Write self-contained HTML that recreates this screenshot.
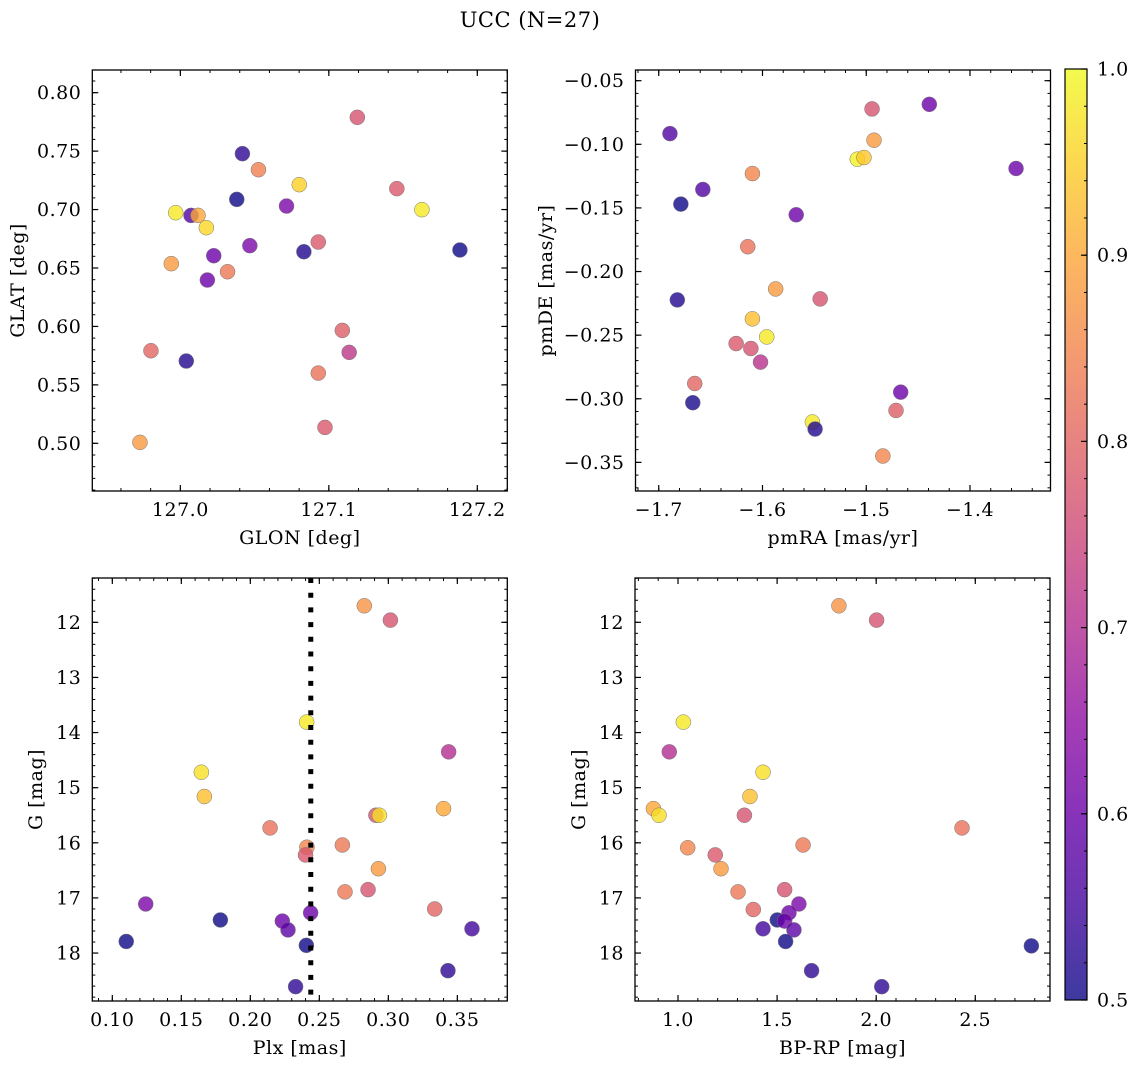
<!DOCTYPE html>
<html><head><meta charset="utf-8"><style>
html,body{margin:0;padding:0;background:#fff;}
svg{display:block;font-family:"DejaVu Serif","Liberation Serif",serif;}
text{letter-spacing:0.5px;}
</style></head><body>
<svg id="fig" width="1136" height="1068" viewBox="0 0 1136 1068">
<text x="530" y="27" text-anchor="middle" font-size="21">UCC (N=27)</text>
</svg>
<script>
// ---- data ----
const glon = [127.1192,127.0418,127.0526,127.0801,127.0380,127.1458,127.1627,126.9969,127.0072,127.0119,127.0715,127.0175,127.0468,127.0929,127.0225,127.0832,127.1883,126.9939,127.0318,127.0182,127.1091,126.9802,127.1137,127.0040,127.0929,127.0974,126.9728];
const glat = [0.7789,0.7478,0.7341,0.7213,0.7087,0.7179,0.6999,0.6973,0.6950,0.6950,0.7030,0.6845,0.6691,0.6722,0.6605,0.6639,0.6654,0.6537,0.6468,0.6397,0.5966,0.5792,0.5778,0.5704,0.5601,0.5136,0.5008];
const prob1 = [0.77,0.53,0.84,0.95,0.5,0.78,0.98,0.98,0.57,0.9,0.62,0.96,0.62,0.78,0.6,0.52,0.5,0.88,0.83,0.6,0.79,0.8,0.72,0.52,0.82,0.78,0.88];
const pmra = [-1.4944,-1.4392,-1.6892,-1.4925,-1.5086,-1.5022,-1.3556,-1.6097,-1.6575,-1.6787,-1.5675,-1.6142,-1.5873,-1.5444,-1.6821,-1.6097,-1.5959,-1.6254,-1.6112,-1.6019,-1.6653,-1.4668,-1.6672,-1.4713,-1.5519,-1.5493,-1.4840];
const pmde = [-0.0722,-0.0686,-0.0916,-0.0968,-0.1117,-0.1104,-0.1190,-0.1230,-0.1355,-0.1470,-0.1554,-0.1805,-0.2137,-0.2215,-0.2223,-0.2372,-0.2514,-0.2566,-0.2605,-0.2712,-0.2880,-0.2948,-0.3031,-0.3092,-0.3183,-0.3238,-0.3450];
const prob2 = [0.77,0.6,0.57,0.88,0.99,0.94,0.6,0.85,0.57,0.5,0.6,0.82,0.88,0.77,0.52,0.93,0.98,0.78,0.77,0.71,0.8,0.6,0.51,0.79,0.98,0.52,0.85];
const plx = [0.2826,0.3015,0.2408,0.3437,0.1645,0.1667,0.2910,0.2935,0.3400,0.2143,0.2410,0.2400,0.2667,0.2928,0.2686,0.2853,0.3336,0.1242,0.2437,0.1783,0.2232,0.2273,0.3606,0.1101,0.2406,0.3432,0.2328];
const gmag3 = [11.70,11.96,13.81,14.35,14.72,15.16,15.50,15.50,15.38,15.73,16.08,16.22,16.04,16.47,16.89,16.85,17.20,17.11,17.27,17.40,17.42,17.58,17.56,17.79,17.86,18.32,18.61];
const prob3 = [0.87,0.77,0.98,0.7,0.97,0.93,0.77,0.97,0.9,0.82,0.85,0.78,0.83,0.88,0.83,0.77,0.8,0.62,0.6,0.5,0.6,0.58,0.55,0.5,0.5,0.53,0.53];
const bprp = [1.812,2.002,1.027,0.956,1.429,1.363,0.876,0.904,1.335,2.433,1.631,1.049,1.188,1.217,1.303,1.538,1.380,1.610,1.560,1.501,1.538,1.585,1.429,1.543,2.783,1.674,2.028];
const gmag4 = [11.70,11.96,13.81,14.35,14.72,15.16,15.38,15.50,15.50,15.73,16.04,16.09,16.22,16.47,16.89,16.85,17.21,17.11,17.27,17.40,17.42,17.58,17.56,17.79,17.87,18.32,18.61];
const prob4 = [0.87,0.77,0.98,0.7,0.97,0.93,0.9,0.97,0.77,0.82,0.83,0.85,0.78,0.88,0.83,0.77,0.8,0.62,0.6,0.5,0.6,0.58,0.55,0.5,0.5,0.53,0.53];
const plxLine = [0.2438];
const xticks1 = ["127.0","127.1","127.2"], yticks1 = ["0.50","0.55","0.60","0.65","0.70","0.75","0.80"];
const xticks2 = ["-1.7","-1.6","-1.5","-1.4"], yticks2 = ["-0.35","-0.30","-0.25","-0.20","-0.15","-0.10","-0.05"];
const xticks3 = ["0.10","0.15","0.20","0.25","0.30","0.35"], yticks34 = ["12","13","14","15","16","17","18"];
const xticks4 = ["1.0","1.5","2.0","2.5"];
const cbTicks = ["0.5","0.6","0.7","0.8","0.9","1.0"];

const NS="http://www.w3.org/2000/svg";
const svg=document.getElementById('fig');
const FS=19;
function mk(tag,attrs,parent){const e=document.createElementNS(NS,tag);for(const k in attrs)e.setAttribute(k,attrs[k]);(parent||svg).appendChild(e);return e;}
const stops=["#0d0887","#41049d","#6a00a8","#8f0da4","#b12a90","#cc4778","#e16462","#f2844b","#fca636","#fcce25","#f0f921"];
function hex(h){return [1,3,5].map(i=>parseInt(h.substr(i,2),16));}
function plasma(t){t=Math.max(0,Math.min(1,t));const f=t*10,i=Math.min(9,Math.floor(f)),u=f-i;const a=hex(stops[i]),b=hex(stops[i+1]);return "rgb("+a.map((v,k)=>Math.round(v+(b[k]-v)*u)).join(",")+")";}
function cmap(v){return plasma((v-0.5)/0.5);}
function fmt(s){return s.replace("-","\u2212");}

function panel(o){
  const g=mk('g',{});
  
  
  const sx=v=>o.L+(v-o.x0)/(o.x1-o.x0)*o.W;
  const sy=v=>o.T+o.H-(v-o.y0)/(o.y1-o.y0)*o.H;
  for(let i=0;i<o.xs.length;i++){
    const c=mk('circle',{cx:sx(o.xs[i]),cy:sy(o.ys[i]),r:7.5,fill:cmap(o.cs[i]),'fill-opacity':0.8,stroke:'#777','stroke-width':0.5},g);
    
    
  }
  if(o.vline){for(const v of o.vline){const l=mk('line',{x1:sx(v),x2:sx(v),y1:o.T,y2:o.T+o.H,stroke:'#000','stroke-width':5,'stroke-dasharray':'5 9.7'},g);
    
    }}
  const fr=mk('rect',{x:o.L,y:o.T,width:o.W,height:o.H,fill:'none',stroke:'#000','stroke-width':1.3},g);
  
  
  const lo=Math.min(o.y0,o.y1),hi=Math.max(o.y0,o.y1);
  for(let k=Math.ceil(o.x0/o.xm-1e-6);k*o.xm<=o.x1+1e-9;k++){const x=sx(k*o.xm);
    mk('line',{x1:x,x2:x,y1:o.T+o.H,y2:o.T+o.H-3,stroke:'#000','stroke-width':1},g);
    mk('line',{x1:x,x2:x,y1:o.T,y2:o.T+3,stroke:'#000','stroke-width':1},g);}
  for(let k=Math.ceil(lo/o.ym-1e-6);k*o.ym<=hi+1e-9;k++){const y=sy(k*o.ym);
    mk('line',{x1:o.L,x2:o.L+3,y1:y,y2:y,stroke:'#000','stroke-width':1},g);
    mk('line',{x1:o.L+o.W,x2:o.L+o.W-3,y1:y,y2:y,stroke:'#000','stroke-width':1},g);}
  for(const s of o.xt){const x=sx(parseFloat(s));
    mk('line',{x1:x,x2:x,y1:o.T+o.H,y2:o.T+o.H-6,stroke:'#000','stroke-width':1.2},g);
    mk('line',{x1:x,x2:x,y1:o.T,y2:o.T+6,stroke:'#000','stroke-width':1.2},g);
    const t=mk('text',{x:x,y:o.T+o.H+25,'text-anchor':'middle','font-size':FS},g);t.textContent=fmt(s);
    
    }
  for(const s of o.yt){const y=sy(parseFloat(s));
    mk('line',{x1:o.L,x2:o.L+6,y1:y,y2:y,stroke:'#000','stroke-width':1.2},g);
    mk('line',{x1:o.L+o.W,x2:o.L+o.W-6,y1:y,y2:y,stroke:'#000','stroke-width':1.2},g);
    const t=mk('text',{x:o.L-11,y:y+6.5,'text-anchor':'end','font-size':FS},g);t.textContent=fmt(s);
    
    }
  const xl=mk('text',{x:o.L+o.W/2,y:o.T+o.H+53,'text-anchor':'middle','font-size':FS},g);xl.textContent=o.xlab;
  
  
  const yl=mk('text',{x:0,y:0,'text-anchor':'middle','font-size':FS,transform:'translate('+o.ylx+','+(o.T+o.H/2)+') rotate(-90)'},g);yl.textContent=o.ylab;
  
  
}
panel({name:'glon-glat-panel',L:92.3,T:70,W:415,H:421,x0:126.9407,x1:127.2202,y0:0.4592,y1:0.8194,xm:0.02,ym:0.01,xs:glon,ys:glat,cs:prob1,xt:xticks1,yt:yticks1,xlab:'GLON [deg]',ylab:'GLAT [deg]',ylx:24});
panel({name:'pm-panel',L:635.5,T:70,W:415,H:421,x0:-1.7224,x1:-1.3224,y0:-0.3725,y1:-0.0416,xm:0.02,ym:0.01,xs:pmra,ys:pmde,cs:prob2,xt:xticks2,yt:yticks2,xlab:'pmRA [mas/yr]',ylab:'pmDE [mas/yr]',ylx:552});
panel({name:'plx-g-panel',L:92.3,T:578,W:415,H:423,x0:0.0855,x1:0.3862,y0:18.87,y1:11.196,xm:0.01,ym:0.2,xs:plx,ys:gmag3,cs:prob3,xt:xticks3,yt:yticks34,xlab:'Plx [mas]',ylab:'G [mag]',ylx:42,vline:plxLine});
panel({name:'cmd-panel',L:635,T:578,W:415,H:423,x0:0.783,x1:2.877,y0:18.87,y1:11.196,xm:0.1,ym:0.2,xs:bprp,ys:gmag4,cs:prob4,xt:xticks4,yt:yticks34,xlab:'BP-RP [mag]',ylab:'G [mag]',ylx:585});

const cb=mk('g',{});


const defs=mk('defs',{},cb);
const lg=mk('linearGradient',{id:'cbg',x1:0,y1:1,x2:0,y2:0},defs);
stops.forEach((c,i)=>mk('stop',{offset:(i/10),'stop-color':c},lg));
const CBX=1065,CBT=69,CBW=22,CBH=931;
mk('rect',{x:CBX,y:CBT,width:CBW,height:CBH,fill:'url(#cbg)','fill-opacity':0.8},cb);
mk('rect',{x:CBX,y:CBT,width:CBW,height:CBH,fill:'none',stroke:'#000','stroke-width':1.2},cb);
const cy=v=>CBT+CBH-(v-0.5)/0.5*CBH;
for(let k=25;k<=50;k++){const y=cy(k/50);mk('line',{x1:CBX+CBW,x2:CBX+CBW-3,y1:y,y2:y,stroke:'#000','stroke-width':1},cb);}
for(const s of cbTicks){const y=cy(parseFloat(s));
  mk('line',{x1:CBX+CBW,x2:CBX+CBW-6,y1:y,y2:y,stroke:'#000','stroke-width':1.2},cb);
  const t=mk('text',{x:CBX+CBW+10,y:y+6.5,'font-size':FS},cb);t.textContent=s;
  
  }
</script>
</body></html>
